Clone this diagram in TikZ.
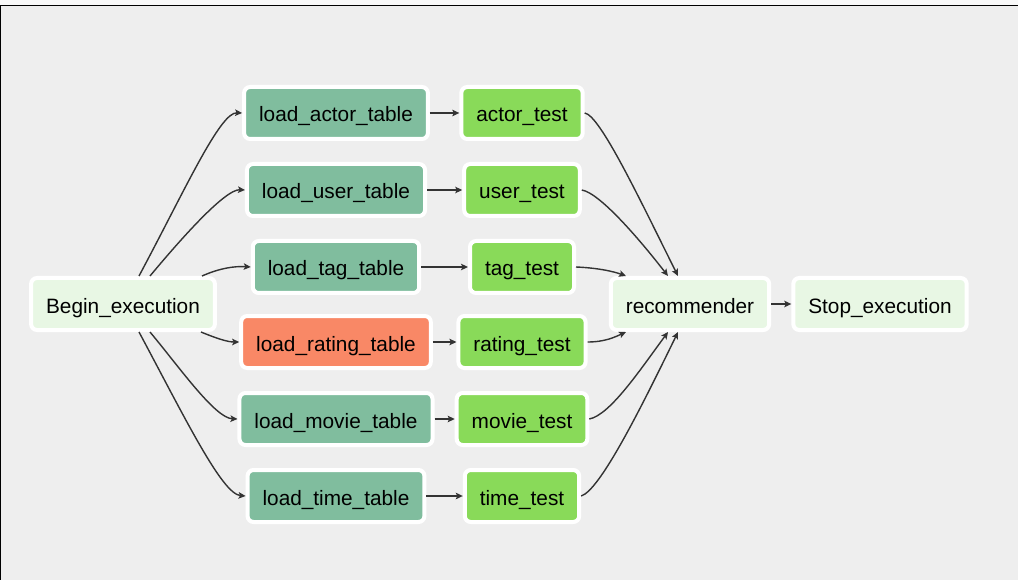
\documentclass[tikz,border=0pt]{standalone}
\usepackage{fontspec}
\setmainfont{Liberation Sans}
\usetikzlibrary{arrows.meta,calc}
\definecolor{bgc}{HTML}{EEEEEE}
\definecolor{topc}{HTML}{F9F9F9}
\definecolor{dummyc}{HTML}{E8F7E4}
\definecolor{loadc}{HTML}{80BD9E}
\definecolor{factc}{HTML}{F98866}
\definecolor{testc}{HTML}{89DA59}
\definecolor{edgec}{HTML}{333333}
\begin{document}
\begin{tikzpicture}[x=1pt,y=-1pt,
  task/.style={draw=white, line width=4pt, rounded corners=6pt, minimum height=52pt,
    inner xsep=15pt, inner ysep=0pt, text height=20pt, text depth=2pt,
    font=\fontsize{20.8}{24}\selectfont, text=black},
  dummy/.style={task, fill=dummyc},
  loadt/.style={task, fill=loadc},
  factt/.style={task, fill=factc},
  testt/.style={task, fill=testc},
  conn/.style={draw=edgec, line width=1.4pt, -{Stealth[length=7pt,width=6.5pt,inset=1.5pt]}}]
\useasboundingbox (0,0) rectangle (1018,580);
\fill[bgc] (0,0) rectangle (1018,580);
\fill[topc] (0,0) rectangle (1018,5);
\draw[black, line width=1.3pt] (0.6,580) -- (0.6,5.2) -- (1018,5.2);

\node[dummy] (B) at (123,304) {Begin\_execution};
\node[loadt] (la) at (336,113) {load\_actor\_table};
\node[loadt] (lu) at (336,190) {load\_user\_table};
\node[loadt] (lt) at (336,267) {load\_tag\_table};
\node[factt] (lr) at (336,342) {load\_rating\_table};
\node[loadt] (lm) at (336,419) {load\_movie\_table};
\node[loadt] (ltm) at (336,496) {load\_time\_table};
\node[testt] (ta) at (522,113) {actor\_test};
\node[testt] (tu) at (522,190) {user\_test};
\node[testt] (tt) at (522,267) {tag\_test};
\node[testt] (tr) at (522,342) {rating\_test};
\node[testt] (tm) at (522,419) {movie\_test};
\node[testt] (ttm) at (522,496) {time\_test};
\node[dummy] (R) at (690,304) {recommender};
\node[dummy] (S) at (880,304) {Stop\_execution};

% Begin -> loads
\draw[conn] ($(B.north)+(16,0)$) .. controls (185,190) and (220,112) .. (la.west);
\draw[conn] ($(B.north)+(27,0)$) .. controls (180,240) and (225,189) .. (lu.west);
\draw[conn] ($(B.north)+(79,0)$) .. controls (220,268) and (235,266) .. (lt.west);
\draw[conn] ($(B.south)+(78,0)$) .. controls (218,339) and (228,342) .. (lr.west);
\draw[conn] ($(B.south)+(27,0)$) .. controls (180,368) and (215,418) .. (lm.west);
\draw[conn] ($(B.south)+(16,0)$) .. controls (185,418) and (222,494) .. (ltm.west);

% loads -> tests
\draw[conn] (la.east) -- (ta.west);
\draw[conn] (lu.east) -- (tu.west);
\draw[conn] (lt.east) -- (tt.west);
\draw[conn] (lr.east) -- (tr.west);
\draw[conn] (lm.east) -- (tm.west);
\draw[conn] (ltm.east) -- (ttm.west);

% tests -> recommender
\draw[conn] (ta.east) .. controls (600,115) and (640,200) .. ($(R.north)+(-12,0)$);
\draw[conn] (tu.east) .. controls (600,193) and (640,240) .. ($(R.north)+(-22,0)$);
\draw[conn] (tt.east) .. controls (600,268) and (615,272) .. ($(R.north)+(-64,0)$);
\draw[conn] (tr.east) .. controls (605,342) and (615,337) .. ($(R.south)+(-64,0)$);
\draw[conn] (tm.east) .. controls (610,415) and (640,370) .. ($(R.south)+(-22,0)$);
\draw[conn] (ttm.east) .. controls (600,490) and (640,410) .. ($(R.south)+(-12,0)$);

% recommender -> stop
\draw[conn] (R.east) -- (S.west);
\end{tikzpicture}
\end{document}
